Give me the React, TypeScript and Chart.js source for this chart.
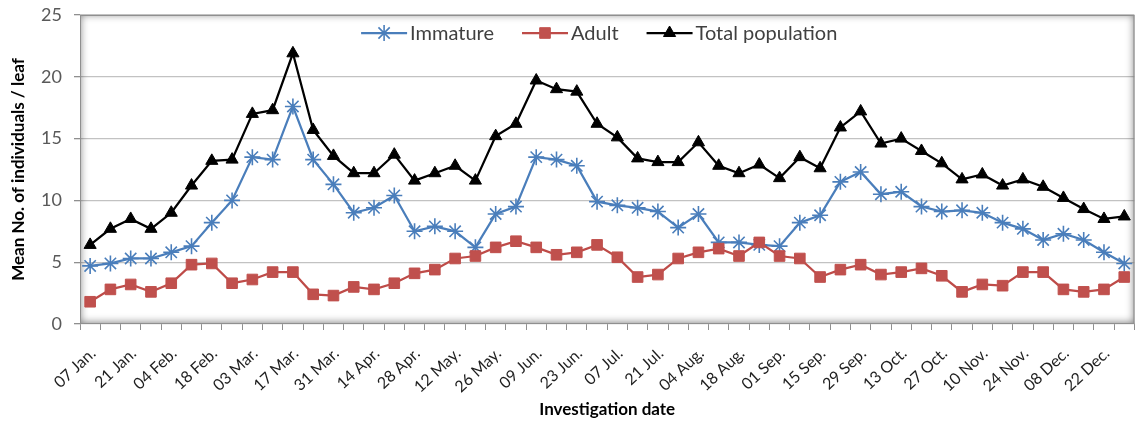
import React, { useEffect, useRef } from 'react';
import { Chart, registerables } from 'chart.js';

Chart.register(...registerables);

const FONT = 'Lato, "Open Sans", sans-serif';

// Weekly investigation dates (every second one is labelled on the axis)
const dates = [
  '07 Jan.', '14 Jan.', '21 Jan.', '28 Jan.',
  '04 Feb.', '11 Feb.', '18 Feb.', '25 Feb.',
  '03 Mar.', '10 Mar.', '17 Mar.', '24 Mar.', '31 Mar.',
  '07 Apr.', '14 Apr.', '21 Apr.', '28 Apr.',
  '05 May.', '12 May.', '19 May.', '26 May.',
  '02 Jun.', '09 Jun.', '16 Jun.', '23 Jun.', '30 Jun.',
  '07 Jul.', '14 Jul.', '21 Jul.', '28 Jul.',
  '04 Aug.', '11 Aug.', '18 Aug.', '25 Aug.',
  '01 Sep.', '08 Sep.', '15 Sep.', '22 Sep.', '29 Sep.',
  '06 Oct.', '13 Oct.', '20 Oct.', '27 Oct.',
  '03 Nov.', '10 Nov.', '17 Nov.', '24 Nov.',
  '01 Dec.', '08 Dec.', '15 Dec.', '22 Dec.', '29 Dec.',
];

const immature = [
  4.7, 4.9, 5.3, 5.3, 5.8, 6.3, 8.2, 10.0, 13.5, 13.3,
  17.6, 13.3, 11.3, 9.0, 9.4, 10.4, 7.5, 7.9, 7.5, 6.2,
  8.9, 9.5, 13.5, 13.3, 12.8, 9.9, 9.6, 9.4, 9.1, 7.8,
  8.9, 6.6, 6.6, 6.4, 6.3, 8.2, 8.8, 11.5, 12.3, 10.5,
  10.7, 9.5, 9.1, 9.2, 9.0, 8.2, 7.7, 6.8, 7.3, 6.8,
  5.8, 4.9,
];

const adult = [
  1.8, 2.8, 3.2, 2.6, 3.3, 4.8, 4.9, 3.3, 3.6, 4.2,
  4.2, 2.4, 2.3, 3.0, 2.8, 3.3, 4.1, 4.4, 5.3, 5.5,
  6.2, 6.7, 6.2, 5.6, 5.8, 6.4, 5.4, 3.8, 4.0, 5.3,
  5.8, 6.1, 5.5, 6.6, 5.5, 5.3, 3.8, 4.4, 4.8, 4.0,
  4.2, 4.5, 3.9, 2.6, 3.2, 3.1, 4.2, 4.2, 2.8, 2.6,
  2.8, 3.8,
];

const totalPopulation = [
  6.4, 7.7, 8.5, 7.7, 9.0, 11.2, 13.2, 13.3, 17.0, 17.3,
  21.9, 15.7, 13.6, 12.2, 12.2, 13.7, 11.6, 12.2, 12.8, 11.6,
  15.2, 16.2, 19.7, 19.0, 18.8, 16.2, 15.1, 13.4, 13.1, 13.1,
  14.7, 12.8, 12.2, 12.9, 11.8, 13.5, 12.6, 15.9, 17.2, 14.6,
  15.0, 14.0, 13.0, 11.7, 12.1, 11.2, 11.7, 11.1, 10.2, 9.3,
  8.5, 8.7,
];

const yTicks = [0, 5, 10, 15, 20, 25];

type Marker = 'star' | 'rect' | 'triangle';

function drawMarker(ctx: CanvasRenderingContext2D, style: Marker, x: number, y: number, r: number, color: string, bw: number) {
  ctx.save();
  ctx.strokeStyle = color;
  ctx.fillStyle = color;
  ctx.lineWidth = bw;
  ctx.beginPath();
  if (style === 'star') {
    for (let k = 0; k < 4; k++) {
      const ang = (k * Math.PI) / 4;
      const dx = Math.cos(ang) * r;
      const dy = Math.sin(ang) * r;
      ctx.moveTo(x - dx, y - dy);
      ctx.lineTo(x + dx, y + dy);
    }
    ctx.stroke();
  } else if (style === 'rect') {
    const s = Math.SQRT1_2 * r;
    ctx.rect(x - s, y - s, 2 * s, 2 * s);
    ctx.fill();
    ctx.stroke();
  } else {
    let rad = 0;
    ctx.moveTo(x + Math.sin(rad) * r, y - Math.cos(rad) * r);
    rad += (2 * Math.PI) / 3;
    ctx.lineTo(x + Math.sin(rad) * r, y - Math.cos(rad) * r);
    rad += (2 * Math.PI) / 3;
    ctx.lineTo(x + Math.sin(rad) * r, y - Math.cos(rad) * r);
    ctx.closePath();
    ctx.fill();
    ctx.stroke();
  }
  ctx.restore();
}

// Plot-area frame with a soft inner shadow
const framePlugin = {
  id: 'plotFrame',
  beforeDatasetsDraw(chart: any) {
    const { ctx, chartArea: a } = chart;
    const w = a.right - a.left;
    const h = a.bottom - a.top;
    ctx.save();
    ctx.beginPath();
    ctx.rect(a.left, a.top, w, h);
    ctx.clip();
    ctx.beginPath();
    ctx.rect(a.left - 60, a.top - 60, w + 120, h + 120);
    ctx.rect(a.left, a.top, w, h);
    ctx.shadowColor = 'rgba(0,0,0,0.55)';
    ctx.shadowBlur = 9;
    ctx.shadowOffsetY = -1;
    ctx.fillStyle = '#777';
    ctx.fill('evenodd');
    ctx.restore();
    ctx.save();
    ctx.strokeStyle = '#8f8f8f';
    ctx.lineWidth = 1;
    ctx.strokeRect(a.left + 0.5, a.top + 0.5, w - 1, h - 1);
    ctx.restore();
  },
};

// Legend with line segment + marker, drawn inside the top of the plot area
const lineLegendPlugin = {
  id: 'lineLegend',
  afterDraw(chart: any) {
    const { ctx, chartArea: a } = chart;
    ctx.save();
    ctx.font = `20px ${FONT}`;
    ctx.textBaseline = 'middle';
    ctx.textAlign = 'left';
    const seg = 46;
    const gap = 3;
    const space = 28;
    const items = chart.data.datasets.map((ds: any) => ({
      ds,
      w: seg + gap + ctx.measureText(ds.label).width,
    }));
    const total = items.reduce((s: number, it: any) => s + it.w, 0) + space * (items.length - 1);
    let x = (a.left + a.right) / 2 - total / 2 - 8;
    const y = a.top + 18;
    items.forEach(({ ds, w }: any) => {
      ctx.strokeStyle = ds.borderColor;
      ctx.lineWidth = ds.borderWidth;
      ctx.beginPath();
      ctx.moveTo(x, y);
      ctx.lineTo(x + seg, y);
      ctx.stroke();
      drawMarker(ctx, ds.pointStyle, x + seg / 2, y, ds.pointRadius, ds.pointBackgroundColor, ds.pointBorderWidth);
      ctx.fillStyle = '#404040';
      ctx.fillText(ds.label, x + seg + gap, y + 1);
      x += w + space;
    });
    ctx.restore();
  },
};

export default function App() {
  const canvasRef = useRef<HTMLCanvasElement | null>(null);

  useEffect(() => {
    if (!canvasRef.current) return;
    const chart = new Chart(canvasRef.current, {
      type: 'line',
      data: {
        labels: dates,
        datasets: [
          {
            label: 'Immature',
            data: immature,
            borderColor: '#4A7EBB',
            backgroundColor: '#4A7EBB',
            borderWidth: 2.25,
            pointStyle: 'star',
            pointRadius: 8,
            pointBorderWidth: 1.6,
            pointBorderColor: '#4A7EBB',
            pointBackgroundColor: '#4A7EBB',
            order: 3,
          },
          {
            label: 'Adult',
            data: adult,
            borderColor: '#BE4B48',
            backgroundColor: '#C0504D',
            borderWidth: 2.25,
            pointStyle: 'rect',
            pointRadius: 7.5,
            pointBorderWidth: 1,
            pointBorderColor: '#C0504D',
            pointBackgroundColor: '#C0504D',
            order: 2,
          },
          {
            label: 'Total population',
            data: totalPopulation,
            borderColor: '#000000',
            backgroundColor: '#000000',
            borderWidth: 2.25,
            pointStyle: 'triangle',
            pointRadius: 7,
            pointBorderWidth: 1,
            pointBorderColor: '#000000',
            pointBackgroundColor: '#000000',
            order: 1,
          },
        ] as any,
      },
      options: {
        responsive: true,
        maintainAspectRatio: false,
        animation: false,
        devicePixelRatio: 1,
        layout: { padding: { top: 15, right: 0, left: 0, bottom: 0 } },
        plugins: {
          legend: { display: false },
          tooltip: { enabled: false },
        },
        scales: {
          x: {
            type: 'category',
            offset: true,
            border: { display: false },
            grid: {
              offset: true,
              drawOnChartArea: false,
              drawTicks: true,
              tickLength: 6,
              tickColor: '#8f8f8f',
            },
            ticks: {
              autoSkip: false,
              maxRotation: 43,
              minRotation: 43,
              padding: 14,
              labelOffset: 3,
              color: '#1e1e1e',
              font: { family: FONT, size: 16 },
              callback: (_v: any, i: number) => (i % 2 === 0 ? dates[i] : ''),
            },
            title: {
              display: true,
              text: 'Investigation date',
              color: '#000000',
              font: { family: FONT, size: 17, weight: 'bold' },
              padding: { top: 0, bottom: 5 },
            },
            afterFit: (s: any) => {
              s.height = 101;
              s.paddingLeft = 0;
              s.paddingRight = 0;
            },
          },
          y: {
            min: yTicks[0],
            max: yTicks[yTicks.length - 1],
            border: { display: false },
            grid: {
              color: '#c2c2c2',
              lineWidth: 1.3,
              tickLength: 6,
              tickColor: '#8f8f8f',
            },
            afterBuildTicks: (s: any) => {
              s.ticks = yTicks.map((v) => ({ value: v }));
            },
            ticks: {
              padding: 12,
              color: '#595959',
              font: { family: FONT, size: 18 },
            },
            title: {
              display: true,
              text: 'Mean No. of individuals / leaf',
              color: '#000000',
              font: { family: FONT, size: 17, weight: 'bold' },
              padding: { top: 8, bottom: 0 },
            },
            afterFit: (s: any) => {
              s.width = 80;
              s.paddingTop = 0;
              s.paddingBottom = 0;
            },
          },
        },
      } as any,
      plugins: [framePlugin, lineLegendPlugin],
    });
    return () => chart.destroy();
  }, []);

  return (
    <div style={{ position: 'absolute', left: 0, top: 0, width: 1144, height: 425, background: '#ffffff' }}>
      <canvas ref={canvasRef} />
    </div>
  );
}
